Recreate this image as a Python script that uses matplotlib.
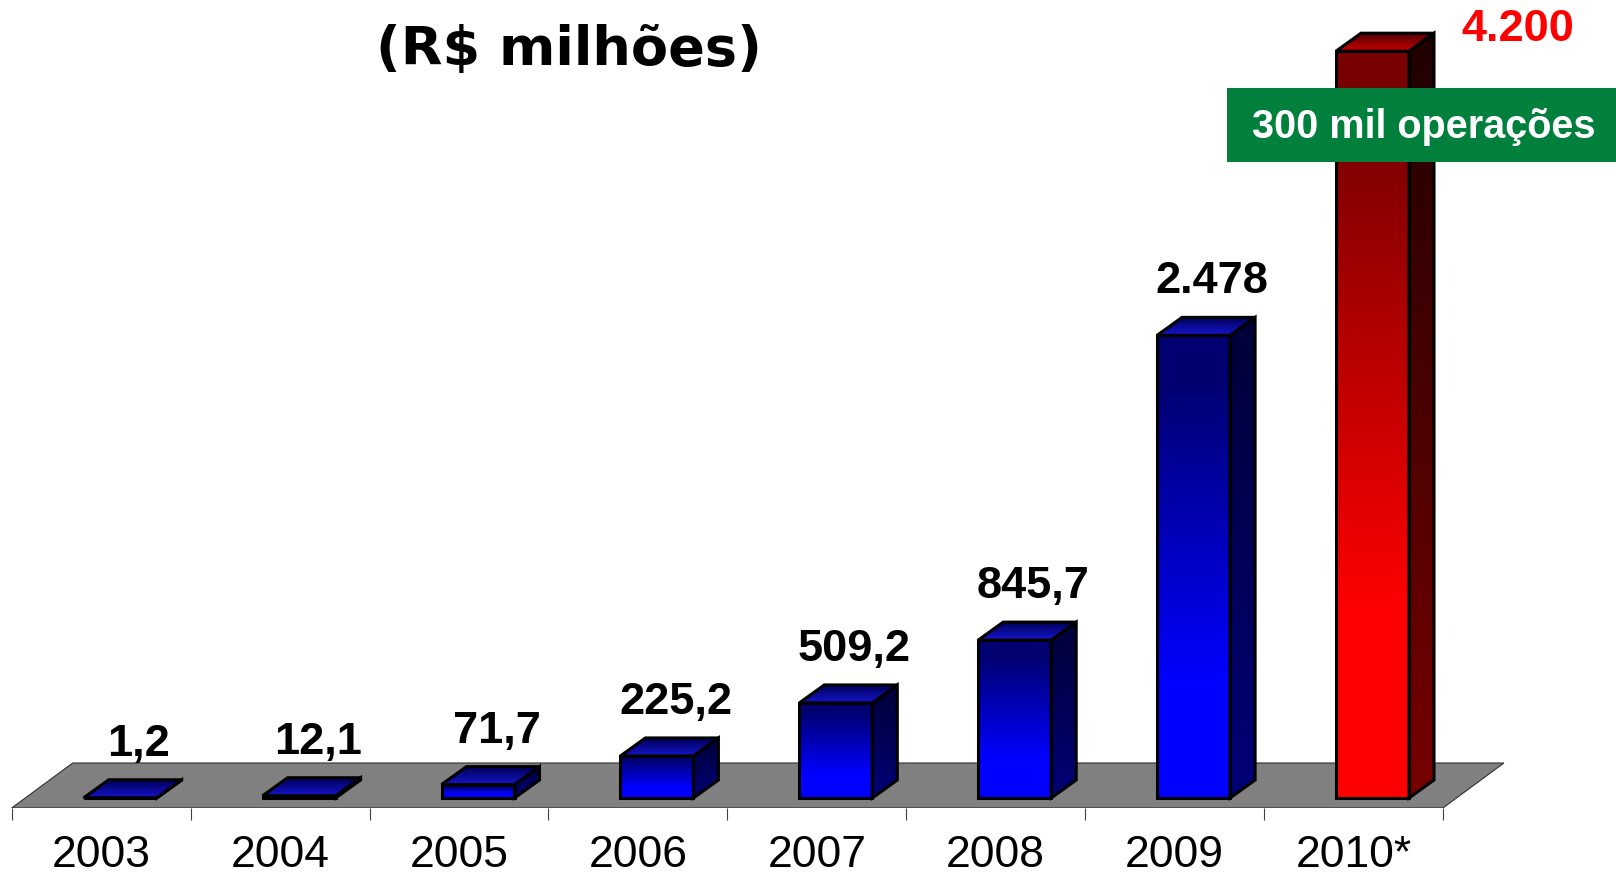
import matplotlib
matplotlib.use("Agg")
import matplotlib.pyplot as plt
import numpy as np
from matplotlib.patches import Polygon, Rectangle
from matplotlib.colors import to_rgb

years = ["2003", "2004", "2005", "2006", "2007", "2008", "2009", "2010*"]
values = [1.2, 12.1, 71.7, 225.2, 509.2, 845.7, 2478, 4200]
value_labels = ["1,2", "12,1", "71,7", "225,2", "509,2", "845,7", "2.478", "4.200"]
title = "(R$ milhões)"
note = "300 mil operações"
y_cap = 4000  # value axis stops here, the 2010 bar is cut off at it

# page layout in pixels (1616x878 at 100 dpi)
W, H = 1616, 878
px_x = 178.9     # px per category
px_y = 0.1867    # px per R$ milhão
x_origin = 11.7  # px of the first tick
floor_px = 809   # floor front edge, px from top
base_px = 799    # bottom of bar fronts, px from top

fig = plt.figure(figsize=(W / 100, H / 100), dpi=100)
ax = fig.add_axes([0, (H - floor_px) / H, 1, floor_px / H])
ax.set_autoscale_on(False)
ax.set_xlim(-x_origin / px_x, (W - x_origin) / px_x)
ax.set_ylim(-(floor_px - base_px) / px_y, base_px / px_y)

# 3d offsets in data units
bar_off = 72 / px_x
bar_w = 73 / px_x
bdx, bdy = 25 / px_x, 18 / px_y
fdx, fdy = 61 / px_x, 45 / px_y
floor_y = -(floor_px - base_px) / px_y


def shade(top, bottom, n=256, start=0.0, end=1.0):
    t = np.linspace(0, 1, n)
    f = np.clip((t - start) / (end - start), 0, 1)[:, None]
    a, b = np.array(to_rgb(top)), np.array(to_rgb(bottom))
    return (a + (b - a) * f)[:, None, :]


def face(verts, top, bottom, z, start=0.0, end=1.0):
    xs = [v[0] for v in verts]
    ys = [v[1] for v in verts]
    im = ax.imshow(shade(top, bottom, start=start, end=end),
                   extent=[min(xs), max(xs), min(ys), max(ys)],
                   origin="upper", aspect="auto", interpolation="bilinear", zorder=z)
    im.set_clip_path(Polygon(verts, closed=True, transform=ax.transData))
    ax.add_patch(Polygon(verts, closed=True, fill=False, edgecolor="black",
                         lw=2.2, joinstyle="miter", zorder=z + 0.5))


# floor
n = len(years)
ax.add_patch(Polygon([(0, floor_y), (n, floor_y), (n + fdx, floor_y + fdy), (fdx, floor_y + fdy)],
                     closed=True, facecolor="#808080", edgecolor="#303030", lw=0.8, zorder=1))

blue = dict(front=("#000070", "#0000FF"), side=("#000038", "#000078"), top=("#000058", "#1414CC"))
red = dict(front=("#780000", "#FF0000"), side=("#200000", "#780000"), top=("#500000", "#C80000"))

for i, v in enumerate(values):
    c = red if i == n - 1 else blue
    x0 = i + bar_off
    x1 = x0 + bar_w
    y1 = min(v, y_cap)
    front = [(x0, 0), (x1, 0), (x1, y1), (x0, y1)]
    side = [(x1, 0), (x1 + bdx, bdy), (x1 + bdx, y1 + bdy), (x1, y1)]
    top = [(x0, y1), (x1, y1), (x1 + bdx, y1 + bdy), (x0 + bdx, y1 + bdy)]
    face(side, *c["side"], z=2)
    face(front, *c["front"], z=2, start=0.1, end=0.75)
    face(top, *c["top"], z=3)

    if i < n - 1:
        ax.text(i + 0.71, v + bdy + 25 / px_y, value_labels[i], ha="center", va="baseline",
                fontsize=32.5, fontweight="bold", family="Liberation Sans", zorder=5)
    else:
        ax.text(i + 1.42, y_cap + 60, value_labels[i], ha="center", va="baseline",
                fontsize=32.5, fontweight="bold", color="#FF0000", family="Liberation Sans",
                zorder=5, clip_on=False)

# category axis
for s in ax.spines.values():
    s.set_visible(False)
ax.yaxis.set_visible(False)
ax.set_xticks(range(n + 1))
ax.set_xticklabels([])
ax.set_xticks(np.arange(n) + 0.5, minor=True)
ax.set_xticklabels(years, minor=True, fontsize=32, family="Liberation Sans")
ax.tick_params(axis="x", which="major", length=8.6, width=0.8, color="#404040", direction="out")
ax.tick_params(axis="x", which="minor", length=0, pad=19)
ax.patch.set_visible(False)

# title and note box
fig.text(569 / W, 1 - 65 / H, title, ha="center", va="baseline",
         fontsize=39, fontweight="bold", family="DejaVu Sans")
fig.add_artist(Rectangle((1227 / W, 1 - 163 / H), (W - 1227) / W, 74 / H,
                         transform=fig.transFigure, facecolor="#00803C", edgecolor="none", zorder=4))
fig.text(1423.5 / W, 1 - 138 / H, note, ha="center", va="baseline", color="white",
         fontsize=28.5, fontweight="bold", family="Liberation Sans", zorder=5)

fig.savefig("out.png", dpi=100)
